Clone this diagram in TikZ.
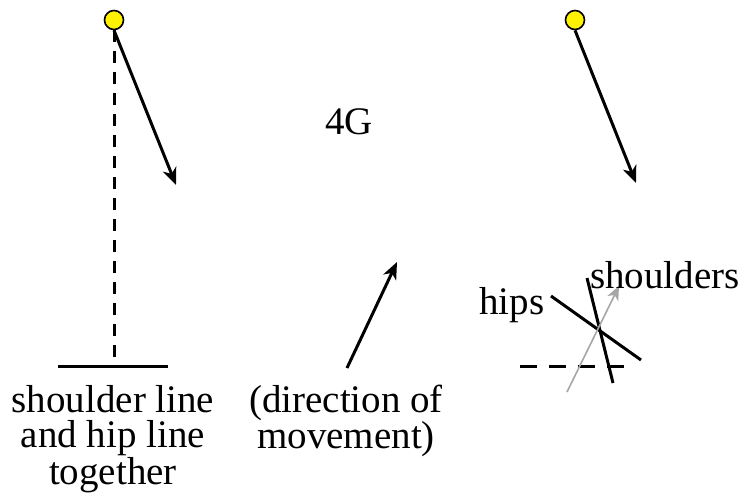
\documentclass[tikz,border=0pt]{standalone}
\usepackage{fontspec}
\setmainfont{Liberation Serif}
\usetikzlibrary{arrows.meta}
\begin{document}
\begin{tikzpicture}[x=1pt,y=-1pt,
  ball/.style={circle,draw=black,fill=yellow,line width=1.6pt,minimum size=19pt,inner sep=0pt},
  thick line/.style={line width=3pt},
  arr/.style={line width=3pt,-{Stealth[length=17pt,width=14pt,inset=5pt]}},
  garr/.style={line width=1.6pt,gray!70,-{Stealth[length=14pt,width=12pt,inset=4pt]}},
  lbl/.style={font=\fontsize{39pt}{35pt}\selectfont,align=center,inner sep=0pt}]
\useasboundingbox (0,0) rectangle (755,495);
% left
\node[ball] (b1) at (114,20) {};
\coordinate (a1) at (176,185);
\coordinate (d1) at (114,358);
\coordinate (s1l) at (58,366);
\coordinate (s1r) at (168,366);
\draw[line width=3pt,dash pattern=on 12pt off 9pt] (b1.south) -- (d1);
\draw[arr] (b1.south) -- (a1);
\draw[thick line] (s1l) -- (s1r);
\node[lbl] (t1) at (113,439) {shoulder line\\and hip line\\together};
% middle
\node[lbl] (g) at (349,122) {4G};
\coordinate (m0) at (347,368);
\coordinate (m1) at (397,262);
\draw[arr] (m0) -- (m1);
\node[lbl] (t2) at (346,421) {(direction of\\movement)};
% right
\node[ball] (b2) at (575,20) {};
\coordinate (a2) at (636,183);
\draw[arr] (b2.south) -- (a2);
\coordinate (h0) at (520,366);
\coordinate (h1) at (634,366);
\draw[line width=3pt,dash pattern=on 17pt off 12pt] (h0) -- (h1);
\coordinate (hp0) at (551,296);
\coordinate (hp1) at (641,360);
\draw[thick line] (hp0) -- (hp1);
\coordinate (sh0) at (587,278);
\coordinate (sh1) at (613,383);
\draw[thick line] (sh0) -- (sh1);
\coordinate (g0) at (567,392);
\coordinate (g1) at (619,286);
\draw[garr] (g0) -- (g1);
\node[lbl] (hips) at (512,305) {hips};
\node[lbl] (sh) at (665,275) {shoulders};
\end{tikzpicture}
\end{document}
